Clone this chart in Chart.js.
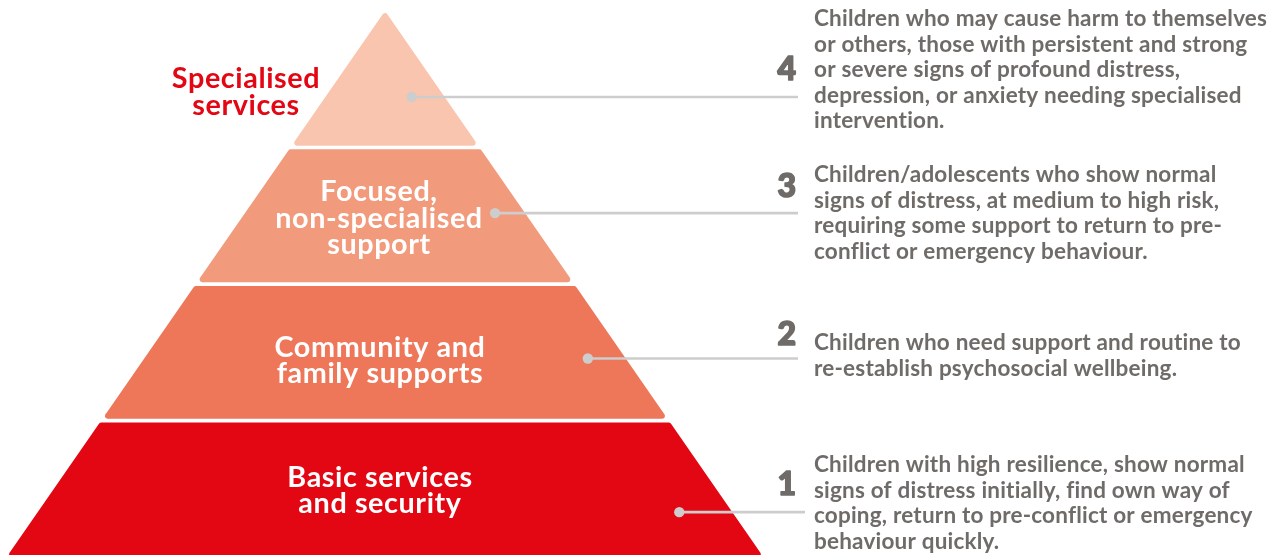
<!DOCTYPE html>
<html><head><meta charset="utf-8">
<script src="https://cdn.jsdelivr.net/npm/chart.js@4.4.1/dist/chart.umd.min.js"></script>
<style>html,body{margin:0;padding:0;background:#fff;overflow:hidden}#wrap{width:1285px;height:555px;position:relative}canvas{display:block}</style>
</head><body><div id="wrap"><canvas id="c" width="1285" height="555"></canvas></div>
<script>
// ---------- DATA ----------
const tierNumbers = ['1', '2', '3', '4'];
const tierLevels = [1, 2, 3, 4]; // top level of each tier (bottom is level - 1)
const tierLabels = [
  ['Basic services', 'and security'],
  ['Community and', 'family supports'],
  ['Focused,', 'non-specialised', 'support'],
  ['Specialised', 'services']
];
const tierDescriptions = [
  ['Children with high resilience, show normal', 'signs of distress initially, find own way of', 'coping, return to pre-conflict or emergency', 'behaviour quickly.'],
  ['Children who need support and routine to', 're-establish psychosocial wellbeing.'],
  ['Children/adolescents who show normal', 'signs of distress, at medium to high risk,', 'requiring some support to return to pre-', 'conflict or emergency behaviour.'],
  ['Children who may cause harm to themselves', 'or others, those with persistent and strong', 'or severe signs of profound distress,', 'depression, or anxiety needing specialised', 'intervention.']
];

// ---------- STYLE ----------
const STYLE = {
  tierColors: ['#e30613', '#ee7659', '#f29a7c', '#f9c5ae'],
  labelColors: ['#ffffff', '#ffffff', '#ffffff', '#e30613'],
  textGrey: '#6f6b68',
  lineGrey: '#cdcdcd',
  font: 'Lato, "Open Sans", sans-serif'
};

// ---------- LAYOUT ----------
const L = {
  W: 1285, H: 555,
  cx: 385, apexPx: 11, basePx: 557.2,
  slope: 0.693, gap: 3.6, r: 3,
  dots: [{pos: 0.33, inset: 53, end: 805}, {pos: 0.455, inset: 38, end: 798}, {pos: 0.52, inset: 30, end: 798}, {pos: 0.37, inset: 33, end: 798}],
  labels: [{x: 380, y: 487, lh: 26}, {x: 380, y: 357, lh: 26}, {x: 379, y: 201, lh: 26.5}, {x: 246, y: 88, lh: 27}],
  labelFitText: 'non-specialised', labelFitWidth: 207, labelSpacing: 0.6,
  numX: 797, numY: [495, 345, 197, 80], numSize: 32,
  descX: 814, descY: [472, 350, 182, 26], descLH: 25.6, descSpacing: 0.2,
  descFitText: 'Children who may cause harm to themselves', descFitWidth: 453
};
const levelPx = (L.basePx - L.apexPx) / 4;
const pxToLevel = y => (L.basePx - y) / levelPx;
const levelToPx = v => L.basePx - v * levelPx;
const hw = y => L.slope * (y - L.apexPx);
const slantInset = L.r * Math.sqrt(1 + L.slope * L.slope);

function tierPolygon(i) {
  const top = tierLevels[i], bot = top - 1;
  const isTop = top === Math.max(...tierLevels);
  const yB = levelToPx(bot) - (bot > 0 ? L.gap / 2 : 0) - L.r;
  const pts = [];
  const hB = hw(yB) - slantInset;
  pts.push({x: L.cx - hB, y: pxToLevel(yB)});
  pts.push({x: L.cx + hB, y: pxToLevel(yB)});
  if (isTop) {
    const yA = L.apexPx + slantInset / L.slope;
    pts.push({x: L.cx, y: pxToLevel(yA)});
  } else {
    const yT = levelToPx(top) + L.gap / 2 + L.r;
    const hT = hw(yT) - slantInset;
    pts.push({x: L.cx + hT, y: pxToLevel(yT)});
    pts.push({x: L.cx - hT, y: pxToLevel(yT)});
  }
  pts.push({...pts[0]});
  return pts;
}

const datasets = [];
tierLevels.forEach((lv, i) => {
  const c = STYLE.tierColors[i];
  datasets.push({
    data: tierPolygon(i), showLine: true, fill: 'shape', tension: 0,
    backgroundColor: c, borderColor: c, borderWidth: L.r * 2,
    borderJoinStyle: 'round', borderCapStyle: 'round',
    pointRadius: 0, pointHoverRadius: 0, clip: false, order: 10
  });
});
tierLevels.forEach((lv, i) => {
  const d = L.dots[i];
  const yv = (lv - 1) + d.pos;
  const y = levelToPx(yv);
  const x = L.cx + hw(y) - d.inset;
  datasets.push({
    data: [{x: x, y: yv}, {x: d.end, y: yv}], showLine: true, fill: false,
    borderColor: STYLE.lineGrey, borderWidth: 2.6, borderCapStyle: 'butt',
    pointRadius: [5.2, 0], pointBackgroundColor: STYLE.lineGrey, pointBorderWidth: 0,
    pointHoverRadius: 0, clip: false, order: 1
  });
});

function setSpacing(ctx, px) { if ('letterSpacing' in ctx) ctx.letterSpacing = px + 'px'; }
function fitSize(ctx, weight, text, target, spacing) {
  setSpacing(ctx, 0);
  ctx.font = `${weight} 100px ${STYLE.font}`;
  const w = ctx.measureText(text).width;
  const extra = spacing * (text.length - 1);
  return 100 * (target - extra) / w;
}

const textPlugin = {
  id: 'pyramidTexts',
  afterDatasetsDraw(chart) {
    const ctx = chart.ctx;
    ctx.save();
    ctx.textBaseline = 'alphabetic';
    const labSize = fitSize(ctx, 700, L.labelFitText, L.labelFitWidth, L.labelSpacing);
    const descSize = fitSize(ctx, 700, L.descFitText, L.descFitWidth, L.descSpacing);
    setSpacing(ctx, L.labelSpacing);
    tierLabels.forEach((lines, i) => {
      const p = L.labels[i];
      ctx.font = `700 ${labSize}px ${STYLE.font}`;
      ctx.fillStyle = STYLE.labelColors[i];
      ctx.textAlign = 'center';
      lines.forEach((t, j) => ctx.fillText(t, p.x, p.y + j * p.lh));
    });
    setSpacing(ctx, 0);
    tierNumbers.forEach((n, i) => {
      ctx.font = `900 ${L.numSize}px ${STYLE.font}`;
      ctx.fillStyle = STYLE.textGrey;
      ctx.strokeStyle = STYLE.textGrey;
      ctx.lineWidth = 1.6;
      ctx.lineJoin = 'round';
      ctx.textAlign = 'right';
      ctx.fillText(n, L.numX - 1, L.numY[i]);
      ctx.strokeText(n, L.numX - 1, L.numY[i]);
    });
    setSpacing(ctx, L.descSpacing);
    tierDescriptions.forEach((lines, i) => {
      ctx.font = `700 ${descSize}px ${STYLE.font}`;
      ctx.fillStyle = STYLE.textGrey;
      ctx.textAlign = 'left';
      lines.forEach((t, j) => ctx.fillText(t, L.descX, L.descY[i] + j * L.descLH));
    });
    ctx.restore();
  }
};

function draw() {
  new Chart(document.getElementById('c'), {
    type: 'scatter',
    data: {datasets},
    options: {
      responsive: false, animation: false, events: [],
      devicePixelRatio: 1,
      layout: {padding: 0, autoPadding: false},
      plugins: {legend: {display: false}, tooltip: {enabled: false}},
      scales: {
        x: {type: 'linear', display: false, min: 0, max: L.W},
        y: {type: 'linear', display: false, min: pxToLevel(L.H), max: pxToLevel(0)}
      }
    },
    plugins: [textPlugin]
  });
}
if (document.fonts && document.fonts.load) {
  Promise.all([document.fonts.load('700 20px Lato'), document.fonts.load('900 20px Lato')]).then(draw, draw);
} else draw();
</script></body></html>
